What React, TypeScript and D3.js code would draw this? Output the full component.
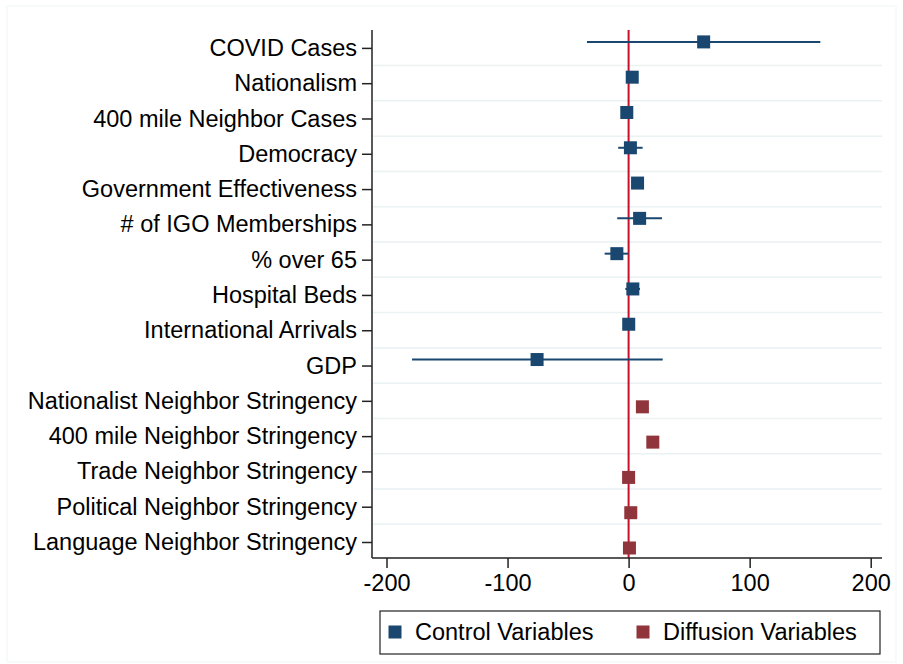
import React, { useEffect, useRef } from 'react';
import * as d3 from 'd3';

// Coefficient plot: control vs diffusion variables
const controlVars = [
  'COVID Cases', 'Nationalism', '400 mile Neighbor Cases', 'Democracy',
  'Government Effectiveness', '# of IGO Memberships', '% over 65',
  'Hospital Beds', 'International Arrivals', 'GDP'
];
const controlCoef = [62, 3, -1.5, 1.5, 7.4, 9.1, -9.7, 3.5, 0.1, -75.6];
const controlLo = [-34.4, 1, -3, -8.6, 5.5, -9.4, -19.8, -2.7, -1.5, -178.9];
const controlHi = [158.4, 5, 0, 11.6, 9.3, 27.6, -0.2, 9.4, 1.7, 28.2];

const diffusionVars = [
  'Nationalist Neighbor Stringency', '400 mile Neighbor Stringency',
  'Trade Neighbor Stringency', 'Political Neighbor Stringency',
  'Language Neighbor Stringency'
];
const diffusionCoef = [11.4, 20, 0, 1.8, 0.7];
const diffusionLo = [10, 18.5, -1, 0.5, -0.5];
const diffusionHi = [12.8, 21.5, 1, 3.1, 1.9];

const xTicks = [-200, -100, 0, 100, 200];
const legendLabels = ['Control Variables', 'Diffusion Variables'];

const NAVY = '#1a476f';
const MAROON = '#90353b';
const FONT = '"Liberation Sans", Arial, Helvetica, sans-serif';
const FS = 23.5;

export default function App() {
  const svgRef = useRef<SVGSVGElement>(null);

  useEffect(() => {
    if (!svgRef.current) return;
    const svg = d3.select(svgRef.current);
    svg.selectAll('*').remove();

    const W = 903, H = 664;
    const left = 372, right = 882, top = 30, bottom = 558;

    // faint outer frame
    svg.append('rect')
      .attr('x', 7).attr('y', 6).attr('width', W - 14).attr('height', H - 8)
      .attr('fill', 'none').attr('stroke', '#f5f9f9').attr('stroke-width', 1.5);

    const allVars = [...controlVars, ...diffusionVars];
    const x = d3.scaleLinear().domain([-200, 200]).range([386.5, 870.7]);
    const y = d3.scalePoint<string>().domain(allVars).range([47.9, 542]);
    const step = y.step();
    const offset = 6;

    // gridlines between rows
    allVars.slice(0, -1).forEach(v => {
      svg.append('line')
        .attr('x1', left + 1).attr('x2', right)
        .attr('y1', (y(v) as number) + step / 2).attr('y2', (y(v) as number) + step / 2)
        .attr('stroke', '#eaf2f3').attr('stroke-width', 1.5);
    });

    // zero line
    svg.append('line')
      .attr('x1', x(0)).attr('x2', x(0)).attr('y1', top).attr('y2', bottom)
      .attr('stroke', '#c8102e').attr('stroke-width', 2);

    // y axis
    const yAxis = svg.append('g').attr('transform', `translate(${left},0)`)
      .call(d3.axisLeft(y).tickSize(10).tickPadding(5));
    yAxis.select('.domain').attr('d', `M0,${top}V${bottom}`).attr('stroke', '#222').attr('stroke-width', 1.5);
    yAxis.selectAll('.tick line').attr('stroke', '#222').attr('stroke-width', 1.5);
    yAxis.selectAll('.tick text').attr('font-family', FONT).attr('font-size', FS).attr('fill', '#000');

    // x axis
    const xAxis = svg.append('g').attr('transform', `translate(0,${bottom})`)
      .call(d3.axisBottom(x).tickValues(xTicks).tickSize(10).tickPadding(6).tickFormat(d3.format('d')));
    xAxis.select('.domain').attr('d', `M${left},0H${right}`).attr('stroke', '#222').attr('stroke-width', 1.5);
    xAxis.selectAll('.tick line').attr('stroke', '#222').attr('stroke-width', 1.5);
    xAxis.selectAll('.tick text').attr('font-family', FONT).attr('font-size', FS).attr('fill', '#000')
      .text((d: any) => (d < 0 ? '-' + Math.abs(d) : String(d)));

    const series = [
      { vars: controlVars, coef: controlCoef, lo: controlLo, hi: controlHi, color: NAVY, off: -offset },
      { vars: diffusionVars, coef: diffusionCoef, lo: diffusionLo, hi: diffusionHi, color: MAROON, off: offset }
    ];
    const ms = 13;
    series.forEach(s => {
      const g = svg.append('g');
      s.vars.forEach((v, i) => {
        const cy = (y(v) as number) + s.off;
        g.append('line')
          .attr('x1', x(s.lo[i])).attr('x2', x(s.hi[i]))
          .attr('y1', cy).attr('y2', cy)
          .attr('stroke', s.color).attr('stroke-width', 2);
        g.append('rect')
          .attr('x', x(s.coef[i]) - ms / 2).attr('y', cy - ms / 2)
          .attr('width', ms).attr('height', ms)
          .attr('fill', s.color);
      });
    });

    // legend
    const lg = svg.append('g');
    lg.append('rect').attr('x', 380).attr('y', 611).attr('width', 500).attr('height', 43)
      .attr('fill', '#fff').attr('stroke', '#222').attr('stroke-width', 1.2);
    const lx = [395, 643];
    [NAVY, MAROON].forEach((c, i) => {
      lg.append('rect').attr('x', lx[i] - 6.5).attr('y', 625.5).attr('width', 13).attr('height', 13).attr('fill', c);
      lg.append('text').attr('x', lx[i] + 20).attr('y', 640)
        .attr('font-family', FONT).attr('font-size', FS).attr('fill', '#000')
        .text(legendLabels[i]);
    });
  }, []);

  return (
    <svg ref={svgRef} width={903} height={664}
      style={{ position: 'absolute', left: 0, top: 0, background: '#fff' }} />
  );
}
